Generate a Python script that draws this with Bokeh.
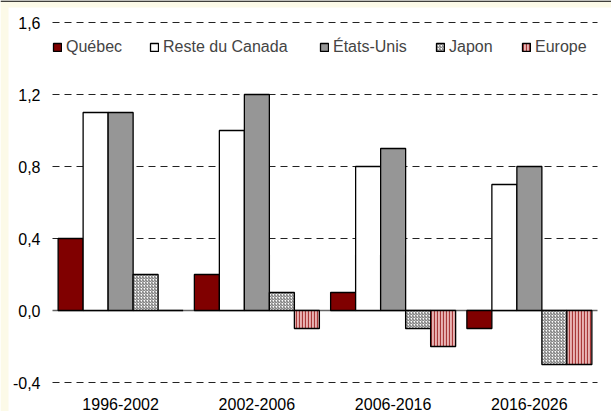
from bokeh.plotting import figure
from bokeh.models import Range1d, Legend, LegendItem, ColumnDataSource, BoxAnnotation
from bokeh.core.properties import value
from bokeh.transform import dodge
from bokeh.embed import file_html
from bokeh.resources import INLINE

periods = ["1996-2002", "2002-2006", "2006-2016", "2016-2026"]
quebec = [0.4, 0.2, 0.1, -0.1]
reste_canada = [1.1, 1.0, 0.8, 0.7]
etats_unis = [1.1, 1.2, 0.9, 0.8]
japon = [0.2, 0.1, -0.1, -0.3]
europe = [0.0, -0.1, -0.2, -0.3]
y_ticks = [-0.4, 0.0, 0.4, 0.8, 1.2, 1.6]
y_tick_labels = ["-0,4", "0,0", "0,4", "0,8", "1,2", "1,6"]

series = [
    ("Québec", quebec, dict(fill_color="#800000")),
    ("Reste du Canada", reste_canada, dict(fill_color="white")),
    ("États-Unis", etats_unis, dict(fill_color="#969696")),
    ("Japon", japon, dict(fill_color="white", hatch_pattern="/", hatch_color="#222222",
                           hatch_scale=3, hatch_weight=0.7)),
    ("Europe", europe, dict(fill_color="#E8B4B4", hatch_pattern="|", hatch_color="#A83838",
                             hatch_scale=3, hatch_weight=1.2)),
]

FONT = "Liberation Sans"
CREAM = "#FCFAE8"
W, H = 611, 411
# plotting area inside the canvas (pixels): left, right, top (1,6), bottom (-0,4)
PL, PR, PT, PB = 52, 597, 22, 382
BAR_W = 0.1835

n = len(periods)
px_per_cat = (PR - PL) / n
px_per_unit = (PB - PT) / (y_ticks[-1] - y_ticks[0])
x0 = -PL / px_per_cat
x1 = n + (W - PR) / px_per_cat
y1 = y_ticks[-1] + PT / px_per_unit
y0 = y_ticks[0] - (H - PB) / px_per_unit

# the frame fills the whole canvas; labels and grid are drawn inside it
p = figure(width=W, height=H, x_range=Range1d(x0, x1), y_range=Range1d(y0, y1),
           output_backend="svg", toolbar_location=None,
           x_axis_location=None, y_axis_location=None,
           min_border_left=0, min_border_right=0, min_border_top=0, min_border_bottom=0,
           background_fill_color="white", border_fill_color="white", outline_line_color=None)
p.grid.visible = False

src = ColumnDataSource(dict(xc=[i + 0.5 for i in range(n)], period=periods,
                            **{f"s{i}": s[1] for i, s in enumerate(series)}))

# dashed value grid and solid zero line
grid_y = [t for t in y_ticks if t != 0]
p.segment(x0=[0] * len(grid_y), x1=[n] * len(grid_y), y0=grid_y, y1=grid_y,
          line_color="#222222", line_width=1, line_dash="7 5")
p.segment(x0=[0], x1=[n], y0=[0], y1=[0], line_color="#666666", line_width=1.3)

renderers = []
for i, (name, vals, style) in enumerate(series):
    off = (i - 2) * BAR_W
    r = p.vbar(x=dodge("xc", off), top=f"s{i}", bottom=0, width=BAR_W, source=src,
               line_color="black", line_width=1.3, **style)
    renderers.append(r)

# tick labels
p.text(x=[-12 / px_per_cat] * len(y_ticks), y=y_ticks, text=y_tick_labels,
       text_font=value(FONT), text_font_size="16px", text_color="black",
       text_align="right", text_baseline="middle")
p.text(x="xc", y=y_ticks[0] - 21 / px_per_unit, text="period", source=src,
       text_font=value(FONT), text_font_size="16px", text_color="black",
       text_align="center", text_baseline="middle")

# one legend per entry for free placement
legend_x = [52, 149, 319, 435, 521]
for i, (name, vals, style) in enumerate(series):
    lg = Legend(items=[LegendItem(label=name, renderers=[renderers[i]])],
                location=(legend_x[i], 355), orientation="horizontal",
                glyph_width=10, glyph_height=10, label_standoff=4, padding=0, margin=0,
                background_fill_alpha=0, border_line_color=None,
                label_text_font=FONT, label_text_font_size="16px", label_height=16)
    p.add_layout(lg, "center")

# page edge: cream strip on the left and top, dark rule along the top
p.add_layout(BoxAnnotation(left=x0, right=x0 + 8 / px_per_cat, bottom=y0, top=y1,
                           fill_color=CREAM, fill_alpha=1, line_color=None))
p.add_layout(BoxAnnotation(left=x0, right=x1, bottom=y1 - 7 / px_per_unit, top=y1,
                           fill_color=CREAM, fill_alpha=1, line_color=None))
p.add_layout(BoxAnnotation(left=x0, right=x1, bottom=y1 - 1.2 / px_per_unit, top=y1,
                           fill_color="black", fill_alpha=1, line_color=None))

open("out.html", "w").write(file_html(p, INLINE))
